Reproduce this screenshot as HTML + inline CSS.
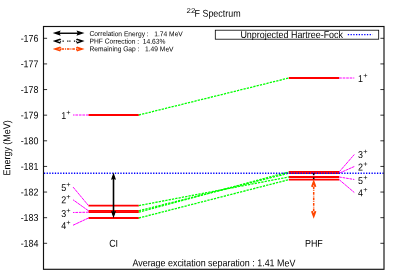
<!DOCTYPE html>
<html><head><meta charset="utf-8">
<style>
html,body{margin:0;padding:0;background:#fff;}
svg{display:block;will-change:transform;font-family:"Liberation Sans",sans-serif;}
text{fill:#000;}
</style></head>
<body>
<svg width="400" height="280" viewBox="0 0 400 280">
<rect width="400" height="280" fill="#fff"/>
<g stroke="#ff0000" stroke-width="1.8" fill="none">
<path d="M88.5 115.0H138.8"/>
<path d="M88.5 205.6H138.8"/>
<path d="M88.5 210.8H138.8"/>
<path d="M88.5 212.2H138.8"/>
<path d="M88.5 218.0H138.8"/>
<path d="M288.8 78.0H339.2"/>
<path d="M288.8 177.0H339.2"/>
<path d="M288.8 173.2H339.2"/>
<path d="M288.8 171.9H339.2"/>
<path d="M288.8 179.7H339.2"/>
</g>
<g stroke="#00ff00" stroke-width="1.3" stroke-dasharray="2.3 1.07" fill="none">
<path d="M138.8 115.0L288.8 78.0"/>
<path d="M138.8 205.6L288.8 177.0"/>
<path d="M138.8 210.8L288.8 173.2"/>
<path d="M138.8 212.2L288.8 171.9"/>
<path d="M138.8 218.0L288.8 179.7"/>
</g>
<g stroke="#ff00ff" stroke-width="1.0" fill="none">
<path d="M88.5 115.0L73.0 115.0" stroke-dasharray="2.6 0.9"/>
<path d="M88.5 205.6L73.0 187.0" stroke-dasharray="3.1 0.4"/>
<path d="M88.5 210.8L73.0 199.75" stroke-dasharray="3.1 0.4"/>
<path d="M88.5 212.2L73.0 212.5" stroke-dasharray="2.6 0.9"/>
<path d="M88.5 218.0L73.0 225.25" stroke-dasharray="3.1 0.4"/>
<path d="M339.2 78.0L354.3 78.0" stroke-dasharray="2.6 0.9"/>
<path d="M339.2 177.0L354.3 179.5" stroke-dasharray="2.6 0.9"/>
<path d="M339.2 173.2L354.3 166.5" stroke-dasharray="3.1 0.4"/>
<path d="M339.2 171.9L354.3 154.5" stroke-dasharray="3.1 0.4"/>
<path d="M339.2 179.7L354.3 192.5" stroke-dasharray="3.1 0.4"/>
</g>
<path d="M43.9 173.2H384.0" stroke="#0000ff" stroke-width="1.4" stroke-dasharray="1.3 1.43"/>
<rect x="43.5" y="26.5" width="340.5" height="242.8" fill="none" stroke="#111" stroke-width="1.15"/>
<path d="M43.5 38.30h3.6M384.0 38.30h-3.6M43.5 63.92h3.6M384.0 63.92h-3.6M43.5 89.55h3.6M384.0 89.55h-3.6M43.5 115.17h3.6M384.0 115.17h-3.6M43.5 140.80h3.6M384.0 140.80h-3.6M43.5 166.43h3.6M384.0 166.43h-3.6M43.5 192.05h3.6M384.0 192.05h-3.6M43.5 217.68h3.6M384.0 217.68h-3.6M43.5 243.30h3.6M384.0 243.30h-3.6" stroke="#000" stroke-width="0.8"/>
<text transform="matrix(0.893 0.001 0 1 38.50 41.75)" font-size="10.0" text-anchor="end">-176</text>
<text transform="matrix(0.893 0.001 0 1 38.50 67.38)" font-size="10.0" text-anchor="end">-177</text>
<text transform="matrix(0.893 0.001 0 1 38.50 93.00)" font-size="10.0" text-anchor="end">-178</text>
<text transform="matrix(0.893 0.001 0 1 38.50 118.62)" font-size="10.0" text-anchor="end">-179</text>
<text transform="matrix(0.893 0.001 0 1 38.50 144.25)" font-size="10.0" text-anchor="end">-180</text>
<text transform="matrix(0.893 0.001 0 1 38.50 169.88)" font-size="10.0" text-anchor="end">-181</text>
<text transform="matrix(0.893 0.001 0 1 38.50 195.50)" font-size="10.0" text-anchor="end">-182</text>
<text transform="matrix(0.893 0.001 0 1 38.50 221.12)" font-size="10.0" text-anchor="end">-183</text>
<text transform="matrix(0.893 0.001 0 1 38.50 246.75)" font-size="10.0" text-anchor="end">-184</text>
<text transform="matrix(1.12 0.001 0 1 186.60 12.90)" font-size="7.0" text-anchor="start">22</text>
<text transform="matrix(0.893 0.001 0 1 194.50 16.80)" font-size="10.0" text-anchor="start">F Spectrum</text>
<text transform="translate(10.3 147.9) rotate(-90) matrix(0.893 0.001 0 1 0 0)" font-size="10.0" text-anchor="middle">Energy (MeV)</text>
<text transform="matrix(0.893 0.001 0 1 213.90 266.30)" font-size="10.0" text-anchor="middle">Average excitation separation : 1.41 MeV</text>
<text transform="matrix(0.893 0.001 0 1 113.60 246.70)" font-size="10.0" text-anchor="middle">CI</text>
<text transform="matrix(0.893 0.001 0 1 313.90 246.70)" font-size="10.0" text-anchor="middle">PHF</text>
<rect x="215.3" y="30.2" width="163.4" height="9" fill="none" stroke="#000" stroke-width="0.8"/>
<text transform="matrix(0.893 0.001 0 1 343.00 38.00)" font-size="10.0" text-anchor="end">Unprojected Hartree-Fock</text>
<path d="M347.8 34.6H372.5" stroke="#0000ff" stroke-width="1.3" stroke-dasharray="1.3 1.43"/>
<text transform="matrix(0.893 0.001 0 1 61.30 119.10)" font-size="10.0" text-anchor="start">1</text>
<text transform="matrix(1.0 0.001 0 1 66.30 115.10)" font-size="7.4" text-anchor="start">+</text>
<text transform="matrix(0.893 0.001 0 1 61.30 191.00)" font-size="10.0" text-anchor="start">5</text>
<text transform="matrix(1.0 0.001 0 1 66.30 187.00)" font-size="7.4" text-anchor="start">+</text>
<text transform="matrix(0.893 0.001 0 1 61.30 203.30)" font-size="10.0" text-anchor="start">2</text>
<text transform="matrix(1.0 0.001 0 1 66.30 199.30)" font-size="7.4" text-anchor="start">+</text>
<text transform="matrix(0.893 0.001 0 1 61.30 217.00)" font-size="10.0" text-anchor="start">3</text>
<text transform="matrix(1.0 0.001 0 1 66.30 213.00)" font-size="7.4" text-anchor="start">+</text>
<text transform="matrix(0.893 0.001 0 1 61.30 229.00)" font-size="10.0" text-anchor="start">4</text>
<text transform="matrix(1.0 0.001 0 1 66.30 225.00)" font-size="7.4" text-anchor="start">+</text>
<text transform="matrix(0.893 0.001 0 1 358.00 82.10)" font-size="10.0" text-anchor="start">1</text>
<text transform="matrix(1.0 0.001 0 1 363.30 78.10)" font-size="7.4" text-anchor="start">+</text>
<text transform="matrix(0.893 0.001 0 1 357.90 183.90)" font-size="10.0" text-anchor="start">5</text>
<text transform="matrix(1.0 0.001 0 1 363.20 179.90)" font-size="7.4" text-anchor="start">+</text>
<text transform="matrix(0.893 0.001 0 1 357.90 170.60)" font-size="10.0" text-anchor="start">2</text>
<text transform="matrix(1.0 0.001 0 1 363.20 166.60)" font-size="7.4" text-anchor="start">+</text>
<text transform="matrix(0.893 0.001 0 1 357.90 158.10)" font-size="10.0" text-anchor="start">3</text>
<text transform="matrix(1.0 0.001 0 1 363.20 154.10)" font-size="7.4" text-anchor="start">+</text>
<text transform="matrix(0.893 0.001 0 1 357.90 196.30)" font-size="10.0" text-anchor="start">4</text>
<text transform="matrix(1.0 0.001 0 1 363.20 192.30)" font-size="7.4" text-anchor="start">+</text>
<path d="M113.5 176V215" stroke="#000" stroke-width="1.6"/>
<path d="M113.5 172.4L116.00 179.80L113.50 179.00L111.00 179.80ZM113.5 218.3L111.00 210.90L113.50 211.70L116.00 210.90Z" fill="#000"/>
<path d="M313.7 173.2V175.3M313.7 177.5V179.2" stroke="#000" stroke-width="1.6"/>
<path d="M313.7 186.5V211.5" stroke="#ff4500" stroke-width="1.5" stroke-dasharray="2.8 0.9 0.9 0.9"/>
<path d="M315.49 186.80L313.70 181.95L311.91 186.80M311.91 211.20L313.70 216.05L315.49 211.20" stroke="#ff4500" stroke-width="1.9" fill="none"/>
<text transform="matrix(0.94 0.001 0 1 89.50 36.10)" font-size="7.1" text-anchor="start" xml:space="preserve">Correlation Energy :   1.74 MeV</text>
<text transform="matrix(0.94 0.001 0 1 89.50 43.60)" font-size="7.1" text-anchor="start" xml:space="preserve">PHF Correction :  14.63%</text>
<text transform="matrix(0.94 0.001 0 1 89.50 51.30)" font-size="7.1" text-anchor="start" xml:space="preserve">Remaining Gap :   1.49 MeV</text>
<path d="M56.0 33.25H81.2" stroke="#000" stroke-width="1.4"/>
<path d="M52.7 33.1L60.70 30.50L59.50 33.10L60.70 35.70ZM84.5 33.1L76.50 35.70L77.70 33.10L76.50 30.50Z" fill="#000"/>
<path d="M62.5 41.1h1.3m3.4 0h1.2m0.9 0h1.2m3.4 0h1.3" stroke="#000" stroke-width="1.3"/>
<path d="M60.50 39.24L54.96 41.10L60.50 42.96M76.70 42.96L82.24 41.10L76.70 39.24" stroke="#000" stroke-width="1.5" fill="none"/>
<path d="M60.6 39.300000000000004v3.6M76.60000000000001 39.300000000000004v3.6" stroke="#000" stroke-width="1" stroke-dasharray="0.9 0.8"/>
<path d="M61.5 49.0H75.7" stroke="#ff4500" stroke-width="1.6" stroke-dasharray="2.6 0.9 1 0.9"/>
<path d="M60.50 47.30L55.43 49.00L60.50 50.70M76.70 50.70L81.77 49.00L76.70 47.30" stroke="#ff4500" stroke-width="1.8" fill="none"/>
<path d="M60.6 47.2v3.6M76.60000000000001 47.2v3.6" stroke="#ff4500" stroke-width="1.2" stroke-dasharray="1.2 0.6"/>
</svg>
</body></html>
